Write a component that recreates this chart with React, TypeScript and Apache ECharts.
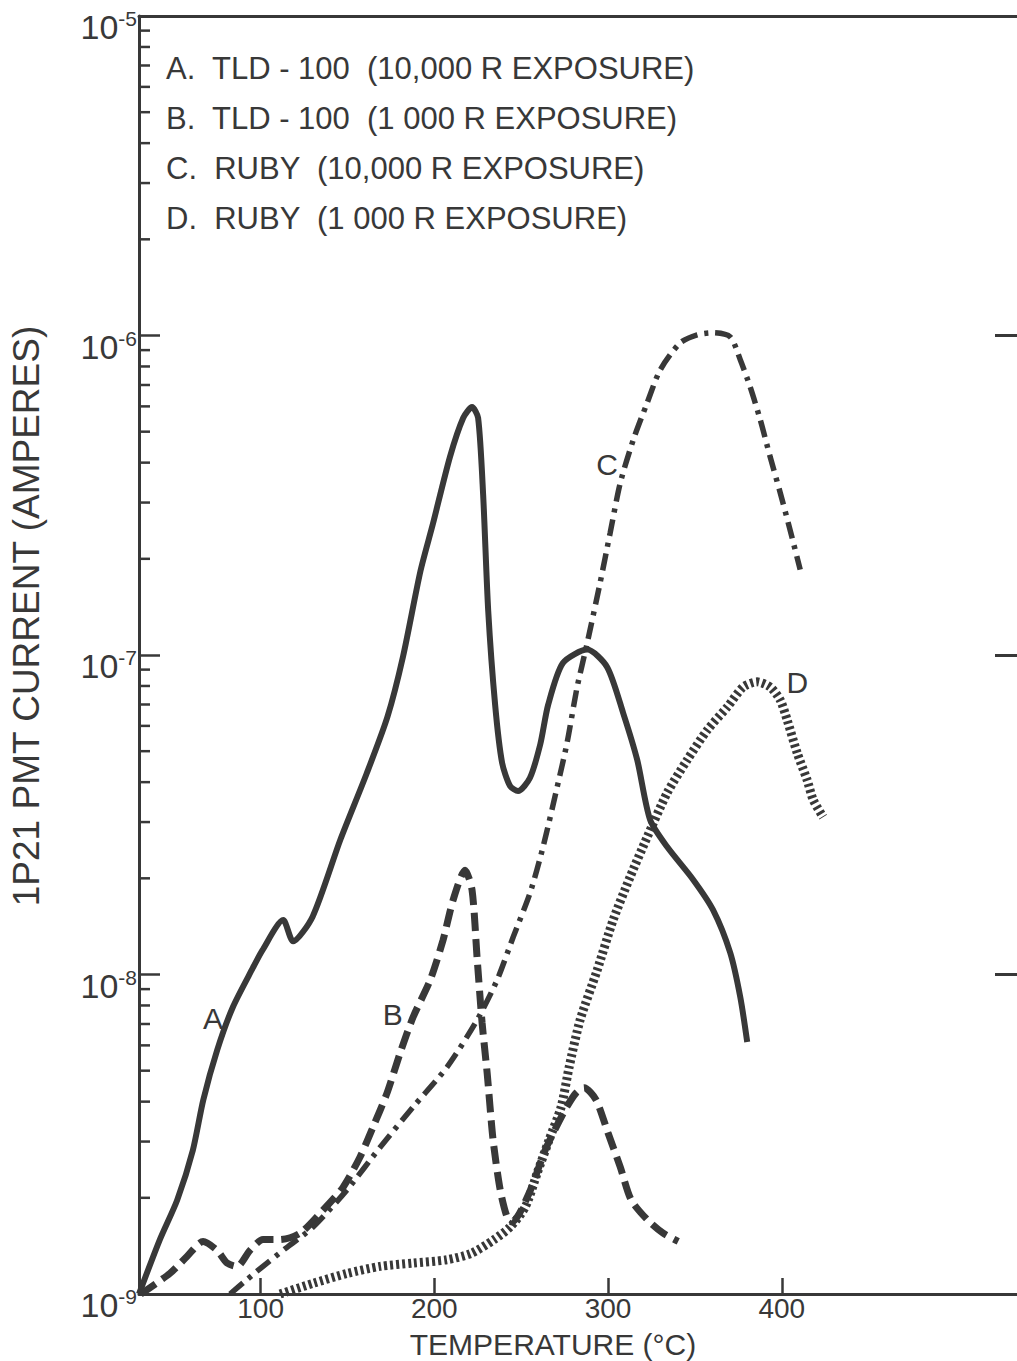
import React, { useEffect, useRef } from "react";
import * as echarts from "echarts";

const INK = "#383838";
const FONT = "'Liberation Sans', 'DejaVu Sans', sans-serif";

const xMin = 30;
const xMax = 540;
const yMin = 1e-9;
const yMax = 1e-5;
const xTicks = [100, 200, 300, 400];
const decades = [1e-9, 1e-8, 1e-7, 1e-6];
const minorMultipliers = [2, 3, 4, 5, 6, 7, 8, 9];

const yAxisTitle = "1P21 PMT CURRENT (AMPERES)";
const xAxisTitle = "TEMPERATURE (°C)";

const legendLines = [
  "A.  TLD - 100  (10,000 R EXPOSURE)",
  "B.  TLD - 100  (1 000 R EXPOSURE)",
  "C.  RUBY  (10,000 R EXPOSURE)",
  "D.  RUBY  (1 000 R EXPOSURE)",
];

// Curve A: TLD-100, 10,000 R (solid)
const tempA = [30, 42, 52, 61, 67, 75, 84, 95.6, 101, 113, 118.7, 130, 146, 161, 173, 182, 192, 199, 209, 216.6, 221.7, 225.2, 228.1, 231, 235, 239, 243.6, 248.2, 255, 261, 265.5, 274, 288, 299.5, 308.7, 316.8, 324.2, 334, 349, 360.5, 370.3, 376.1, 380.1];
const currA = [1.0e-9, 1.48e-9, 1.97e-9, 2.82e-9, 4.05e-9, 5.8e-9, 7.9e-9, 1.05e-8, 1.19e-8, 1.48e-8, 1.27e-8, 1.52e-8, 2.65e-8, 4.25e-8, 6.4e-8, 9.9e-8, 1.83e-7, 2.55e-7, 4.17e-7, 5.52e-7, 5.97e-7, 5.52e-7, 3.17e-7, 1.38e-7, 6.98e-8, 4.6e-8, 3.89e-8, 3.75e-8, 4.12e-8, 5.26e-8, 6.98e-8, 9.44e-8, 1.04e-7, 9.16e-8, 6.58e-8, 4.69e-8, 3.05e-8, 2.51e-8, 1.98e-8, 1.59e-8, 1.17e-8, 8.5e-9, 6.15e-9];

// Curve B: TLD-100, 1 000 R (dashed)
const tempB = [31, 47.8, 57.6, 66.9, 74.9, 80.7, 86.4, 93.9, 101.4, 111.2, 122.7, 135.9, 147.5, 157.3, 164.7, 172.8, 180.3, 187.8, 197.6, 205, 210.8, 217.7, 221.7, 224.6, 227.5, 230.4, 233.8, 237.9, 241.9, 244.8, 254.6, 263.8, 275.3, 281.6, 286.2, 293.1, 300, 307, 313.3, 322.5, 331.7, 340.4];
const currB = [1.0e-9, 1.16e-9, 1.31e-9, 1.46e-9, 1.37e-9, 1.25e-9, 1.22e-9, 1.37e-9, 1.48e-9, 1.48e-9, 1.55e-9, 1.83e-9, 2.16e-9, 2.69e-9, 3.33e-9, 4.26e-9, 5.68e-9, 7.36e-9, 9.6e-9, 1.28e-8, 1.71e-8, 2.12e-8, 1.84e-8, 1.13e-8, 7.05e-9, 4.92e-9, 3.04e-9, 2.12e-9, 1.74e-9, 1.68e-9, 2.07e-9, 2.82e-9, 3.77e-9, 4.26e-9, 4.42e-9, 4.05e-9, 3.19e-9, 2.5e-9, 1.97e-9, 1.71e-9, 1.55e-9, 1.46e-9];

// Curve C: Ruby, 10,000 R (dash-dot)
const tempC = [82.4, 92.2, 103.7, 115.2, 130.2, 149.8, 168.8, 187.8, 207.3, 224.6, 236.1, 245.4, 255.1, 262.6, 270.7, 276.4, 282.2, 288, 295.4, 301.2, 307, 314.5, 322.5, 330, 341.5, 351.3, 360.5, 370.3, 376.1, 381.8, 387.6, 393.3, 399.1, 404.8, 410.6];
const currC = [1.0e-9, 1.11e-9, 1.25e-9, 1.4e-9, 1.62e-9, 2.12e-9, 2.88e-9, 3.85e-9, 5.13e-9, 7.2e-9, 9.6e-9, 1.31e-8, 1.8e-8, 2.51e-8, 3.86e-8, 5.31e-8, 7.94e-8, 1.09e-7, 1.68e-7, 2.41e-7, 3.45e-7, 4.71e-7, 6.15e-7, 7.8e-7, 9.48e-7, 1.005e-6, 1.02e-6, 9.9e-7, 8.4e-7, 6.9e-7, 5.45e-7, 4.17e-7, 3.22e-7, 2.46e-7, 1.85e-7];

// Curve D: Ruby, 1 000 R (dotted)
const tempD = [111.2, 130.2, 149.8, 168.8, 187.8, 207.3, 221.2, 234.4, 243.6, 252.3, 259.2, 266.1, 273, 277.6, 283.9, 293.7, 302.9, 312.7, 322.5, 334, 345.5, 357.1, 368.6, 377.8, 385.8, 393.3, 399.1, 403.1, 408.9, 414.6, 418.1, 423.8];
const currD = [1.0e-9, 1.08e-9, 1.16e-9, 1.22e-9, 1.25e-9, 1.28e-9, 1.34e-9, 1.48e-9, 1.62e-9, 1.87e-9, 2.39e-9, 3.04e-9, 3.85e-9, 5.13e-9, 7.2e-9, 1.03e-8, 1.48e-8, 2.02e-8, 2.69e-8, 3.7e-8, 4.69e-8, 5.82e-8, 6.87e-8, 7.94e-8, 8.24e-8, 7.94e-8, 7.23e-8, 6.26e-8, 4.93e-8, 4.06e-8, 3.52e-8, 3.11e-8];

// Letter tags placed on the curves (data coordinates)
const tagNames = ["A", "B", "C", "D"];
const tagTemps = [72.6, 176, 299.5, 409];
const tagCurrents = [7.3e-9, 7.5e-9, 3.94e-7, 8.2e-8];

const zip = (xs: number[], ys: number[]) => xs.map((x, i) => [x, ys[i]]);

function tagPoint(i: number) {
  return {
    silent: true,
    animation: false,
    data: [
      {
        coord: [tagTemps[i], tagCurrents[i]],
        symbol: "circle",
        symbolSize: 2,
        itemStyle: { color: "rgba(0,0,0,0)", borderWidth: 0 },
        label: {
          show: true,
          formatter: tagNames[i],
          position: "inside",
          color: INK,
          fontFamily: FONT,
          fontSize: 30,
          opacity: 1,
        },
      },
    ],
  };
}

export default function App() {
  const ref = useRef<HTMLDivElement>(null);

  useEffect(() => {
    if (!ref.current) return;
    const chart = echarts.init(ref.current, undefined, { renderer: "svg" });

    const minorTickValues: number[][] = [];
    decades.forEach((d) => minorMultipliers.forEach((m) => minorTickValues.push([xMin, m * d])));

    const option: any = {
      animation: false,
      backgroundColor: "#ffffff",
      grid: { left: 139, right: 20, top: 16, bottom: 67, containLabel: false },
      xAxis: [
        {
          type: "value",
          min: xMin,
          max: xMax,
          axisLine: { show: true, lineStyle: { color: INK, width: 3 } },
          axisTick: { show: true, inside: true, length: 16, lineStyle: { color: INK, width: 2.5 }, customValues: xTicks },
          axisLabel: { show: true, customValues: xTicks, color: INK, fontFamily: FONT, fontSize: 28, margin: 0 },
          splitLine: { show: false },
        },
        {
          type: "value",
          position: "top",
          min: xMin,
          max: xMax,
          axisLine: { show: true, onZero: false, lineStyle: { color: INK, width: 3 } },
          axisTick: { show: false },
          axisLabel: { show: false },
          splitLine: { show: false },
        },
      ],
      yAxis: [
        {
          type: "log",
          logBase: 10,
          min: yMin,
          max: yMax,
          axisLine: { show: true, lineStyle: { color: INK, width: 3 } },
          axisTick: { show: true, inside: true, length: 21, lineStyle: { color: INK, width: 2.5 } },
          axisLabel: {
            show: true,
            margin: 2,
            padding: [20, 0, 0, 0],
            formatter: (v: number) => `{b|10}{s|${Math.round(Math.log10(v))}}`,
            rich: {
              b: { fontFamily: FONT, fontSize: 34, color: INK, verticalAlign: "bottom" },
              s: { fontFamily: FONT, fontSize: 21, color: INK, padding: [0, 0, 15, 0], verticalAlign: "bottom" },
            },
          },
          splitLine: { show: false },
          minorTick: { show: false },
        },
        {
          type: "log",
          logBase: 10,
          position: "right",
          min: yMin,
          max: yMax,
          axisLine: { show: true, lineStyle: { color: INK, width: 3 } },
          axisTick: { show: true, inside: true, length: 30, lineStyle: { color: INK, width: 3 } },
          axisLabel: { show: false },
          splitLine: { show: false },
        },
      ],
      graphic: [
        {
          type: "text",
          x: 26,
          y: 616,
          rotation: Math.PI / 2,
          style: { text: yAxisTitle, fill: INK, font: `37px ${FONT}`, textAlign: "center", textVerticalAlign: "middle" },
        },
        {
          type: "text",
          x: 553,
          y: 1344,
          style: { text: xAxisTitle, fill: INK, font: `30px ${FONT}`, textAlign: "center", textVerticalAlign: "middle" },
        },
        ...legendLines.map((t, i) => ({
          type: "text",
          x: 166,
          y: 68 + i * 50,
          style: { text: t, fill: INK, font: `31px ${FONT}`, textAlign: "left", textVerticalAlign: "middle" },
        })),
      ],
      series: [
        {
          name: "A",
          type: "line",
          data: zip(tempA, currA),
          showSymbol: false,
          smooth: 0.25,
          lineStyle: { color: INK, width: 6, type: "solid" },
          markPoint: tagPoint(0),
          z: 5,
        },
        {
          name: "B",
          type: "line",
          data: zip(tempB, currB),
          showSymbol: false,
          smooth: 0.25,
          lineStyle: { color: INK, width: 7, type: [18, 8], cap: "butt" },
          markPoint: tagPoint(1),
          z: 5,
        },
        {
          name: "C",
          type: "line",
          data: zip(tempC, currC),
          showSymbol: false,
          smooth: 0.25,
          lineStyle: { color: INK, width: 5.5, type: [17, 7, 4, 7], cap: "butt" },
          markPoint: tagPoint(2),
          z: 5,
        },
        {
          name: "D",
          type: "line",
          data: zip(tempD, currD),
          showSymbol: false,
          smooth: 0.25,
          lineStyle: { color: INK, width: 9, type: [3, 3], cap: "butt" },
          markPoint: tagPoint(3),
          z: 5,
        },
        {
          name: "minorTicks",
          type: "custom",
          silent: true,
          clip: false,
          data: minorTickValues,
          renderItem: (_params: any, api: any) => {
            const p = api.coord([api.value(0), api.value(1)]);
            return {
              type: "line",
              shape: { x1: p[0], y1: p[1], x2: p[0] + 11, y2: p[1] },
              style: { stroke: INK, lineWidth: 2.5 },
            };
          },
          z: 4,
        },
      ],
    };

    chart.setOption(option);
    return () => chart.dispose();
  }, []);

  return (
    <div style={{ position: "absolute", left: 0, top: 0, width: 1017, height: 1361, overflow: "hidden", background: "#fff" }}>
      <div ref={ref} style={{ width: 1045, height: 1361 }} />
    </div>
  );
}
